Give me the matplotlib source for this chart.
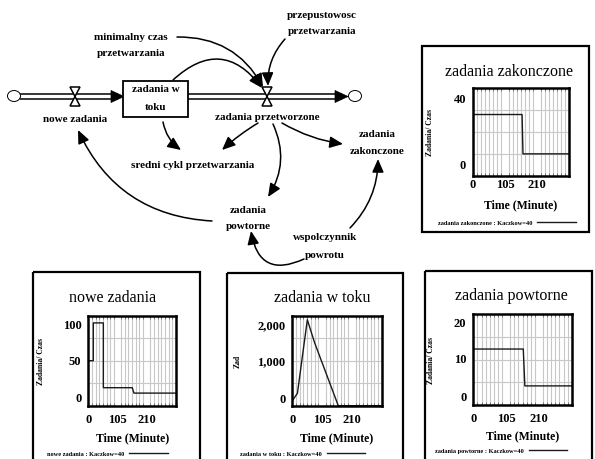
import numpy as np
import matplotlib
matplotlib.use("Agg")
import matplotlib.pyplot as plt
from matplotlib.patches import Rectangle, FancyArrowPatch, Polygon, Ellipse
import matplotlib.transforms as mtransforms

# ---------------- data ----------------
time_max = 315
xtick_vals = [0, 105, 210]
xtick_labels = ["0", "105", "210"]

nowe_t = [0, 18, 18, 54, 54, 158, 164, 315]
nowe_v = [50, 50, 92, 92, 20, 20, 14, 14]
nowe_yticks = [0, 50, 100]
nowe_ylabels = ["0", "50", "100"]

toku_t = [0, 18, 53, 78, 162, 315]
toku_v = [110, 275, 1910, 1410, 0, 0]
toku_yticks = [0, 1000, 2000]
toku_ylabels = ["0", "1,000", "2,000"]

powt_t = [0, 160, 165, 315]
powt_v = [12.3, 12.3, 4.2, 4.2]
powt_yticks = [0, 10, 20]
powt_ylabels = ["0", "10", "20"]

zak_t = [0, 161, 164, 315]
zak_v = [28, 28, 10, 10]
zak_yticks = [0, 40]
zak_ylabels = ["0", "40"]

# ---------------- figure ----------------
W, H = 595, 460
SERIF = "Liberation Serif"
fig = plt.figure(figsize=(W / 100, H / 100), dpi=100)
bg = fig.add_axes([0, 0, 1, 1])
bg.set_xlim(0, W)
bg.set_ylim(H, 0)
bg.axis("off")


def txt(x, y, s, size=8, weight="bold", **kw):
    bg.text(x, y, s, fontsize=size, fontweight=weight, family=SERIF,
            ha="center", va="center", **kw)


# ---- stock & flow diagram ----
def pipe(x0, x1, y, tip):
    for dy in (-2.8, 2.8):
        bg.plot([x0, x1], [y + dy, y + dy], color="black", lw=1.1, solid_capstyle="butt")
    bg.add_patch(Polygon([(tip - 13, y - 6), (tip, y), (tip - 13, y + 6)],
                         closed=True, fc="black", ec="black", lw=0.5, zorder=3))


def valve(x, y):
    bg.add_patch(Polygon([(x - 5, y - 9.5), (x + 5, y - 9.5), (x, y),
                          (x + 5, y + 9.5), (x - 5, y + 9.5), (x, y)],
                         closed=True, fc="white", ec="black", lw=1.1, zorder=4))


def cloud(x, y):
    bg.add_patch(Ellipse((x, y), 13, 11, fc="white", ec="black", lw=0.7, zorder=4))


cloud(14, 97)
cloud(355, 97)
pipe(20, 118, 97.5, 124)
pipe(188, 342, 97.5, 348)
valve(75, 97.5)
valve(267, 97.5)
bg.add_patch(Rectangle((123, 82), 65, 36, fc="white", ec="black", lw=1.3, zorder=5))
txt(156, 90, "zadania w", zorder=6)
txt(156, 107, "toku", zorder=6)

txt(75, 119, "nowe zadania")
txt(267, 117, "zadania przetworzone")
txt(131, 38, "minimalny czas")
txt(131, 53, "przetwarzania")
txt(322, 16, "przepustowosc")
txt(322, 32, "przetwarzania")
txt(193, 166, "sredni cykl przetwarzania")
txt(377, 135, "zadania")
txt(377, 152, "zakonczone")
txt(248, 211, "zadania")
txt(248, 227, "powtorne")
txt(325, 238, "wspolczynnik")
txt(325, 255, "powrotu")


def arrow(p0, p1, rad):
    a = FancyArrowPatch(p0, p1, connectionstyle=f"arc3,rad={rad}",
                        arrowstyle="-|>,head_length=8,head_width=3.5",
                        color="black", lw=1.1, shrinkA=0, shrinkB=0, zorder=3)
    bg.add_patch(a)


arrow((177, 38), (263, 88), -0.3)
arrow((173, 81), (262, 89), -0.55)
arrow((285, 40), (268, 87), 0.2)
arrow((163, 123), (181, 151), 0.2)
arrow((258, 124), (222, 151), 0.05)
arrow((282, 124), (343, 145), 0.1)
arrow((273, 125), (268, 198), -0.27)
arrow((212, 222), (78, 131), -0.3)
arrow((350, 229), (378, 160), 0.2)
arrow((304, 260), (251, 232), -0.65)


# ---- panels ----
def panel(x0, y0, x1, y1):
    bg.add_patch(Rectangle((x0, y0), x1 - x0, y1 - y0, fc="none", ec="black", lw=1.6))


panel(422, 47, 589, 233)
panel(33, 273, 200, 470)
panel(227, 274, 403, 470)
panel(425, 272, 592, 470)


def chart(rect, t, v, ymax, yvals, ylabs, title, title_xy, ylab, ylab_x,
          xpad, time_y, leg_text, leg_xy, top_dy, bot_dy):
    x0, y0, x1, y1 = rect
    ax = fig.add_axes([x0 / W, 1 - y1 / H, (x1 - x0) / W, (y1 - y0) / H])
    ax.plot(t, v, color="#1a1a1a", lw=1.0, label=leg_text)
    ax.set_xlim(0, time_max)
    ax.set_ylim(0, ymax)
    ax.set_xticks(xtick_vals)
    ax.set_xticklabels(xtick_labels, fontsize=9, fontweight="bold", family=SERIF)
    ax.set_yticks([])
    ax.set_xticks(np.linspace(0, time_max, 25), minor=True)
    ax.set_yticks(np.linspace(0, ymax, 5), minor=True)
    ax.grid(False)
    ax.grid(which="minor", color="#c8c8c8", lw=0.8)
    ax.tick_params(axis="x", which="major", length=0, pad=xpad)
    ax.tick_params(axis="x", which="minor", direction="in", length=2, top=True,
                   bottom=True, color="#666666", width=0.6)
    ax.tick_params(axis="y", which="minor", length=0)
    for s in ax.spines.values():
        s.set_linewidth(1.8)
    base = mtransforms.blended_transform_factory(ax.transAxes, ax.transData)
    for val, lab in zip(yvals, ylabs):
        dy = -top_dy if val == ymax else (bot_dy if val == 0 else 0)
        tr = base + mtransforms.ScaledTranslation(-7 / 100, dy / 100, fig.dpi_scale_trans)
        ax.text(0, val, lab, transform=tr, ha="right", va="center", fontsize=9,
                fontweight="bold", family=SERIF)
    txt(title_xy[0], title_xy[1], title, size=11.5, weight="normal")
    txt(ylab_x, (y0 + y1) / 2, ylab, size=5.5, rotation=90)
    txt((x0 + x1) / 2, time_y, "Time (Minute)", size=8.5)
    ax.legend(loc="center left", bbox_to_anchor=(leg_xy[0] / W, 1 - leg_xy[1] / H),
              bbox_transform=fig.transFigure, frameon=False, markerfirst=False,
              prop={"family": SERIF, "size": 4.6, "weight": "bold"},
              handlelength=6, handletextpad=0.8, borderpad=0, borderaxespad=0)
    return ax


chart((473, 89.3, 569, 176.7), zak_t, zak_v, 40, zak_yticks, zak_ylabels,
      "zadania zakonczone", (509, 72), "Zadania/ Czas", 430, 2, 205,
      "zadania zakonczone : Kaczkow=40", (438, 223), 11, 11)
chart((88.3, 316.7, 176, 406.7), nowe_t, nowe_v, 100, nowe_yticks, nowe_ylabels,
      "nowe zadania", (113, 298), "Zadania/ Czas", 41, 5, 438,
      "nowe zadania : Kaczkow=40", (47, 454), 9, 8)
chart((292.3, 316.7, 381.7, 406.7), toku_t, toku_v, 2000, toku_yticks, toku_ylabels,
      "zadania w toku", (322, 298), "Zad", 238, 5, 438,
      "zadania w toku : Kaczkow=40", (240, 454), 9, 7)
chart((473.3, 315, 571.7, 406), powt_t, powt_v, 20, powt_yticks, powt_ylabels,
      "zadania powtorne", (511, 296), "Zadania/ Czas", 431, 5, 436,
      "zadania powtorne : Kaczkow=40", (435, 451), 9, 8)

fig.savefig("out.png", dpi=100)
